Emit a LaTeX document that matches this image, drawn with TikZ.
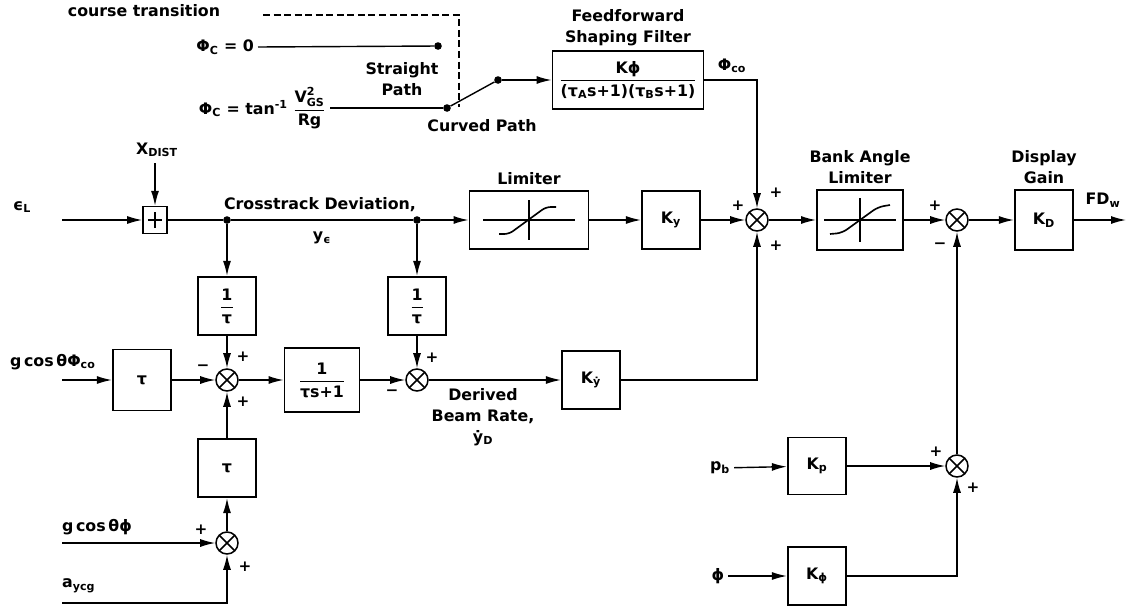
\documentclass[tikz,border=0pt]{standalone}
\usepackage{fontspec}
\setmainfont{DejaVu Sans}
\usepackage{amsmath}
\usetikzlibrary{arrows.meta,positioning}

\begin{document}
\begin{tikzpicture}[
  x=0.03cm, y=-0.03cm,
  font=\fontsize{13.5}{18}\selectfont\bfseries,
  blk/.style={rectangle, draw, line width=1.6pt, minimum width=1.75cm, minimum height=1.75cm, align=center, inner sep=2pt},
  sumj/.style={circle, draw, line width=1.3pt, minimum size=0.66cm, inner sep=0pt,
    path picture={\draw[line width=1.3pt] (path picture bounding box.north west) -- (path picture bounding box.south east)
      (path picture bounding box.north east) -- (path picture bounding box.south west);}},
  sumsq/.style={rectangle, draw, line width=1.4pt, minimum width=0.72cm, minimum height=0.8cm, inner sep=0pt,
    path picture={\draw[line width=1.4pt] ([xshift=-6pt]path picture bounding box.center) -- ([xshift=6pt]path picture bounding box.center)
      ([yshift=-7pt]path picture bounding box.center) -- ([yshift=7pt]path picture bounding box.center);}},
  jdot/.style={circle, fill, inner sep=0pt, minimum size=6.5pt},
  sgn/.style={font=\fontsize{13}{13}\selectfont\bfseries, inner sep=0pt},
  wire/.style={line width=1.2pt},
  arrow/.style={-{Latex[length=4.5mm,width=2.4mm]}, line width=1.2pt}
]
\useasboundingbox (0,0) rectangle (1134,609);

% course transition switch
\node (ct) at (144,11) {course transition};
\node[anchor=east] (phc0) at (258,47) {Φ\textsubscript{C} = 0};
\node[anchor=east] (phct) at (330,108) {Φ\textsubscript{C} = tan\textsuperscript{-1} $\dfrac{\text{V}^{\text{2}}_{\text{GS}}}{\text{Rg}}$};
\node[jdot] (tstr) at (438,46) {};
\node[jdot] (tcur) at (447,108) {};
\node[jdot] (piv) at (498,80) {};
\node[align=center] (sp) at (402,79) {Straight\\Path};
\node (cp) at (482,126) {Curved Path};
\coordinate (dA) at (263,15);
\coordinate (dB) at (459,107);
\draw[wire, dash pattern=on 6pt off 3pt] (dA) -| (dB);
\draw[wire] (phc0.east) -- (tstr);
\draw[wire] (phct.east) -- (tcur);
\draw[wire] (tcur) -- (piv);

% feedforward filter
\node[blk, minimum width=4.53cm, minimum height=1.74cm] (filt) at (628,80)
  {$\dfrac{\text{Kϕ}}{\text{(τ\textsubscript{A}s+1)(τ\textsubscript{B}s+1)}}$};
\node[above=0pt of filt, align=center] (filtlab) {Feedforward\\Shaping Filter};
\node (phco) at (732,66) {Φ\textsubscript{co}};
\draw[arrow] (piv) -- (filt);

% main row
\coordinate (eLin) at (62,220);
\node (eL) at (22,207) {ϵ\textsubscript{L}};
\node[sumsq] (sx) at (155,220) {};
\coordinate (xdin) at (155,163);
\node (xd) at (157,150) {X\textsubscript{DIST}};
\node[jdot] (d1) at (227,220) {};
\node[jdot] (d2) at (417,220) {};
\node (cdev) at (320,205) {Crosstrack Deviation,};
\node (ye) at (322,238) {y\textsubscript{ϵ}};
\node[blk, minimum width=3.57cm, minimum height=1.74cm] (lim) at (529,220) {};
\node[above=1pt of lim] (limlab) {Limiter};
\node[blk] (ky) at (671,220) {K\textsubscript{y}};
\node[sumj] (s1) at (757,220) {};
\node[blk, minimum width=2.58cm, minimum height=1.8cm] (blim) at (860,220) {};
\node[above=1pt of blim, align=center] (blimlab) {Bank Angle\\Limiter};
\node[sumj] (s2) at (957,220) {};
\node[blk, minimum height=1.8cm] (kd) at (1044,220) {K\textsubscript{D}};
\node[above=1pt of kd, align=center] (kdlab) {Display\\Gain};
\coordinate (out) at (1126,220);
\node (fdw) at (1103,200) {FD\textsubscript{w}};

% limiter curves
\begin{scope}[shift={(lim.center)}]
  \draw[line width=1pt] (-46,0) -- (46,0) (0,-20) -- (0,20);
  \draw[line width=1.4pt, rounded corners=4pt] (-30,14) -- (-20,14) -- (17,-13) -- (27,-13);
\end{scope}
\begin{scope}[shift={(blim.center)}]
  \draw[line width=1pt] (-36,0) -- (36,0) (0,-22) -- (0,22);
  \draw[line width=1.4pt, rounded corners=5pt] (-30,14) -- (-18,13) -- (18,-13) -- (30,-15);
\end{scope}

% rate estimator
\node[blk] (it1) at (227,306) {$\dfrac{\text{1}}{\text{τ}}$};
\node[blk] (it2) at (417,306) {$\dfrac{\text{1}}{\text{τ}}$};
\node[blk, minimum height=1.83cm] (ta) at (142,380) {τ};
\node[sumj] (sa) at (227,380) {};
\node[blk, minimum width=2.25cm, minimum height=1.92cm] (lag) at (322,380) {$\dfrac{\text{1}}{\text{τs+1}}$};
\node[sumj] (sb) at (417,380) {};
\node[blk] (kyd) at (591,380) {K\textsubscript{ẏ}};
\node[align=center] (drate) at (483,417) {Derived\\Beam Rate,\\ẏ\textsubscript{D}};
\node[blk] (tb) at (227,468) {τ};
\node[sumj] (sc) at (227,543) {};
\coordinate (gin) at (62,380);
\coordinate (gphin) at (62,543);
\coordinate (ayin) at (62,603);
\node[anchor=west] (glab) at (6,362) {g\,cos\,θΦ\textsubscript{co}};
\node[anchor=west] (gphilab) at (58,527) {g\,cos\,θϕ};
\node[anchor=west] (aylab) at (58,586) {a\textsubscript{ycg}};

% roll damping
\node (pb) at (720,468) {p\textsubscript{b}};
\node (phin) at (718,576) {ϕ};
\node[blk, minimum height=1.71cm] (kp) at (817,466) {K\textsubscript{p}};
\node[sumj] (sd) at (957,466) {};
\node[blk] (kf) at (817,576) {K\textsubscript{ϕ}};

% connections
\draw[arrow] (eLin) -- (sx);
\draw[arrow] (xdin) -- (sx);
\draw[wire] (sx) -- (d1) -- (d2);
\draw[arrow] (d2) -- (lim);
\draw[arrow] (lim) -- (ky);
\draw[arrow] (ky) -- (s1);
\draw[arrow] (s1) -- (blim);
\draw[arrow] (blim) -- (s2);
\draw[arrow] (s2) -- (kd);
\draw[arrow] (kd) -- (out);
\draw[arrow] (filt.east) -| (s1.north);
\draw[arrow] (d1) -- (it1);
\draw[arrow] (d2) -- (it2);
\draw[arrow] (it1) -- (sa);
\draw[arrow] (it2) -- (sb);
\draw[arrow] (gin) -- (ta);
\draw[arrow] (ta) -- (sa);
\draw[arrow] (sa) -- (lag);
\draw[arrow] (lag) -- (sb);
\draw[arrow] (sb) -- (kyd);
\draw[arrow] (kyd.east) -| (s1.south);
\draw[arrow] (tb) -- (sa);
\draw[arrow] (sc) -- (tb);
\draw[arrow] (gphin) -- (sc);
\draw[arrow] (ayin) -| (sc.south);
\draw[arrow] (pb) -- (kp);
\draw[arrow] (phin) -- (kf);
\draw[arrow] (kp) -- (sd);
\draw[arrow] (kf.east) -| (sd.south);
\draw[arrow] (sd) -- (s2);

% signs
\foreach \x/\y/\s [count=\i] in {738/206/+, 776/193/+, 776/246/+, 935/206/+, 940/246/−,
    203/368/−, 243/357/+, 243/402/+, 392/393/−, 432/358/+, 201/530/+, 245/567/+, 936/452/+, 973/488/+}
  \node[sgn] (sg\i) at (\x,\y) {\s};
\end{tikzpicture}
\end{document}
